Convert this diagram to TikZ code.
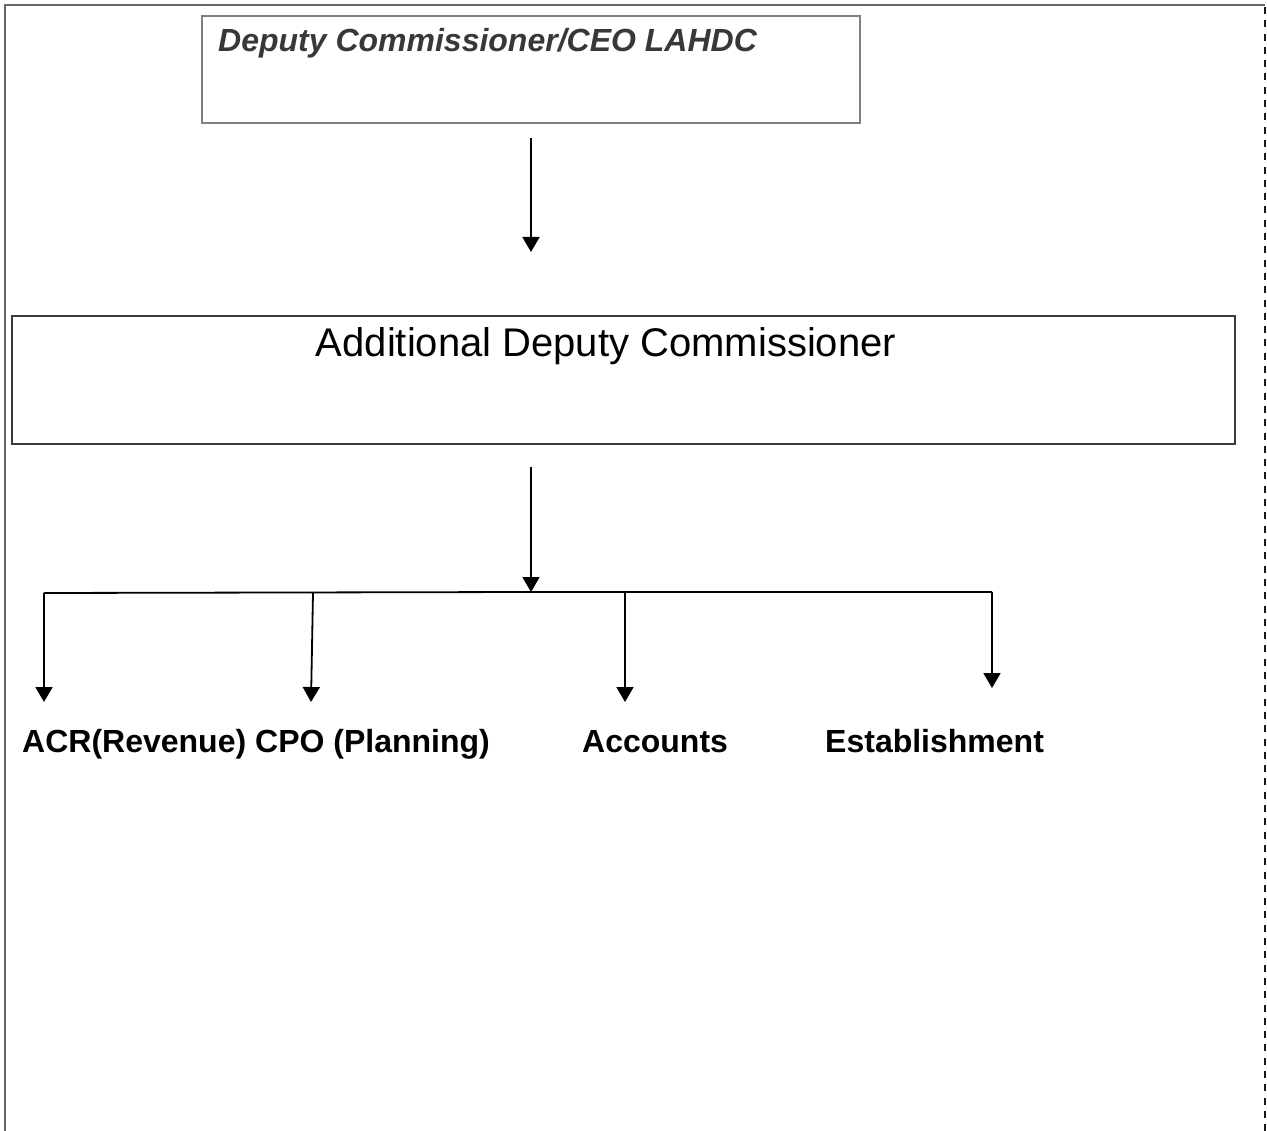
\documentclass[tikz,border=0pt]{standalone}
\usepackage{fontspec}
\setmainfont{Liberation Sans}
\usetikzlibrary{arrows.meta}
\definecolor{boxgray}{HTML}{7F7F7F}
\definecolor{boxdark}{HTML}{3A3A3A}
\definecolor{txtgray}{HTML}{383838}
\begin{document}
\begin{tikzpicture}[x=1pt,y=-1pt,
  frame/.style={line width=1.8pt, draw=boxgray!80!black},
  dframe/.style={line width=2.8pt, draw=black!90, dash pattern=on 7pt off 6.3pt},
  boxa/.style={draw=boxgray, line width=1.5pt, rectangle, inner sep=0pt},
  boxb/.style={draw=boxdark, line width=1.5pt, rectangle, inner sep=0pt},
  lbl/.style={inner sep=0pt, anchor=base west, font=\fontsize{32}{38}\selectfont\bfseries},
  conn/.style={line width=1.8pt, draw=black},
  arr/.style={conn, -{Triangle[width=17pt,length=15pt]}}
]
\useasboundingbox (0,0) rectangle (1267,1131);
% outer frame
\draw[frame] (5,1131) -- (5,5) -- (1265,5);
\draw[dframe] (1265,7) -- (1265,1131);
% top box
\node[boxa, minimum width=658pt, minimum height=107pt] (dc) at (531,69.5) {};
\node[inner sep=0pt, anchor=base west, text=txtgray, font=\fontsize{32}{38}\selectfont\bfseries\itshape] (dctext) at (218,52) {Deputy Commissioner/CEO LAHDC};
% second box
\node[boxb, minimum width=1223pt, minimum height=128pt] (adc) at (623.5,380) {};
\node[inner sep=0pt, anchor=base, font=\fontsize{40}{48}\selectfont] (adctext) at (606,357) {Additional Deputy Commissioner};
% arrows between boxes
\coordinate (a1s) at (531,138);
\coordinate (a1e) at (531,252);
\draw[arr] (a1s) -- (a1e);
\coordinate (a2s) at (531,467);
\coordinate (hub) at (531,592);
\draw[arr] (a2s) -- (hub);
% branch line
\coordinate (bl) at (44,593);
\coordinate (br) at (992,592);
\coordinate (b2) at (313,593);
\coordinate (b3) at (625,592);
\draw[conn] (bl) -- (hub) -- (br);
% labels
\node[lbl] (acr) at (22,752) {ACR(Revenue)};
\node[lbl] (cpo) at (255,752) {CPO (Planning)};
\node[lbl] (acc) at (582,752) {Accounts};
\node[lbl] (est) at (825,752) {Establishment};
% drop arrows
\coordinate (t1) at (44,702);
\coordinate (t2) at (311,702);
\coordinate (t3) at (625,702);
\coordinate (t4) at (992,688);
\draw[arr] (bl) -- (t1);
\draw[arr] (b2) -- (t2);
\draw[arr] (b3) -- (t3);
\draw[arr] (br) -- (t4);
\end{tikzpicture}
\end{document}
